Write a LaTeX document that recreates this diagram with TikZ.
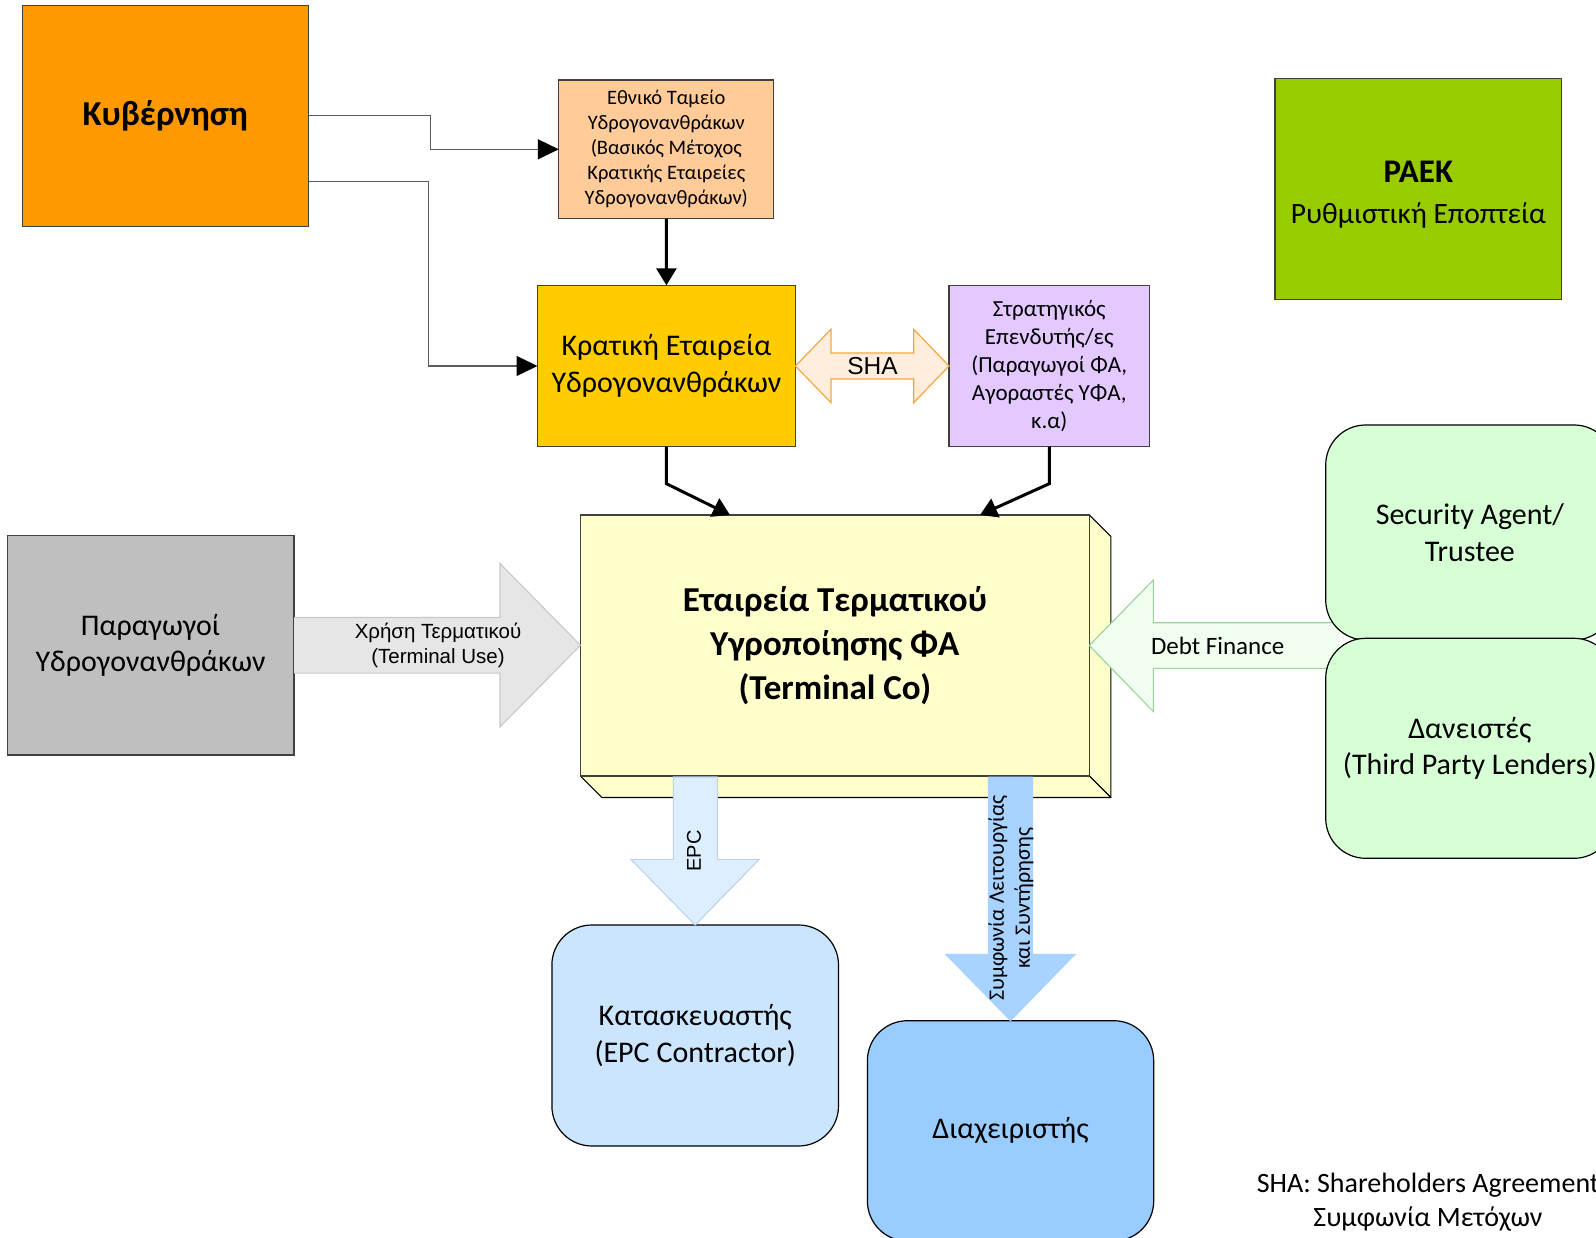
\documentclass[tikz,border=0pt]{standalone}
\usepackage{fontspec}
\setmainfont{Carlito}
\newfontfamily\arialf{Liberation Sans}
\usetikzlibrary{arrows.meta,calc}
\definecolor{boxline}{HTML}{404040}
\definecolor{connline}{HTML}{5A5A5A}
\definecolor{cKyv}{HTML}{FF9900}
\definecolor{cEth}{HTML}{FFCC99}
\definecolor{cKrat}{HTML}{FFCC00}
\definecolor{cStrat}{HTML}{E3C9FF}
\definecolor{cPaek}{HTML}{99CC00}
\definecolor{cTerm}{HTML}{FFFFCC}
\definecolor{cPar}{HTML}{BFBFBF}
\definecolor{cTU}{HTML}{E6E6E6}
\definecolor{cTUline}{HTML}{C8C8C8}
\definecolor{cDebt}{HTML}{F0FFF0}
\definecolor{cDebtline}{HTML}{9AD49A}
\definecolor{cLend}{HTML}{D6FFD6}
\definecolor{cEPC}{HTML}{DDEEFF}
\definecolor{cEPCline}{HTML}{BCD2EC}
\definecolor{cOM}{HTML}{A8D2FF}
\definecolor{cKat}{HTML}{CCE5FF}
\definecolor{cDiax}{HTML}{99CCFF}
\definecolor{cSHA}{HTML}{FFEEDD}
\definecolor{cSHAline}{HTML}{F5A742}
\begin{document}
\begin{tikzpicture}[x=1pt,y=-1pt,
  box/.style={draw=boxline, line width=1.2pt, inner sep=0pt, outer sep=0pt, align=center},
  rbox/.style={box, draw=black, rounded corners=40pt},
  conn/.style={draw=connline, line width=1.3pt, -{Triangle[width=20pt,length=21pt,color=black,fill=black]}},
  tconn/.style={draw=black, line width=3pt, -{Triangle[width=20pt,length=17pt]}},
  fbig/.style={font=\fontsize{30}{36.6}\selectfont},
  lbl/.style={inner sep=0pt, align=center}
]
\useasboundingbox (0,0) rectangle (1596,1238);
\clip (0,0) rectangle (1596,1238);

% top boxes
\node[box, fill=cKyv, minimum width=286.4pt, minimum height=221pt,
      font=\bfseries\fontsize{35}{42}\selectfont] (kyv) at (165.3,115.8) {Κυβέρνηση};
\node[box, fill=cEth, minimum width=215pt, minimum height=138.7pt,
      font=\fontsize{20.5}{25}\selectfont] (eth) at (666.3,149.3)
      {Εθνικό Ταμείο\\Υδρογονανθράκων\\(Βασικός Μέτοχος\\Κρατικής Εταιρείες\\Υδρογονανθράκων)};
\node[box, fill=cKrat, minimum width=257.9pt, minimum height=161.4pt, fbig] (krat) at (666.45,366)
      {Κρατική Εταιρεία\\Υδρογονανθράκων};
\node[box, fill=cStrat, minimum width=200.5pt, minimum height=161.4pt,
      font=\fontsize{23}{28}\selectfont] (strat) at (1049.25,366)
      {Στρατηγικός\\Επενδυτής/ες\\(Παραγωγοί ΦΑ,\\Αγοραστές ΥΦΑ,\\κ.α)};
\node[box, fill=cPaek, minimum width=286.7pt, minimum height=221pt] (paek) at (1418.35,188.8) {};
\node[lbl, font=\fontsize{29.5}{41}\selectfont] (paeklbl) at (1418.35,194.5)
      {{\bfseries\fontsize{33}{41}\selectfont ΡΑΕΚ}\\Ρυθμιστική Εποπτεία};

% connectors
\draw[conn] (kyv.east) -- ++(121.7,0) |- (eth.west);
\draw[conn] ([yshift=-66pt]kyv.east) -- ++(120.1,0) |- (krat.west);
\draw[tconn] (eth.south) -- (krat.north);

% SHA double arrow
\draw[fill=cSHA, draw=cSHAline, line width=1.2pt]
  (krat.east) -- (831,329.3) -- (831,353) -- (913.7,353) -- (913.7,329.3) -- (strat.west)
  -- (913.7,402.7) -- (913.7,379) -- (831,379) -- (831,402.7) -- cycle;
\node[lbl, font=\arialf\fontsize{24.5}{28}\selectfont] (shalbl) at (872.5,366) {SHA};

% terminal 3D box
\draw[fill=cTerm, draw=black, line width=1.1pt, line join=round]
  (1089.3,515) -- (1110.8,536.5) -- (1110.8,797.5) -- (1089.3,776) -- cycle;
\draw[fill=cTerm, draw=black, line width=1.1pt, line join=round]
  (580.4,776) -- (1089.3,776) -- (1110.8,797.5) -- (601.9,797.5) -- cycle;
\node[box, fill=cTerm, draw=boxline, minimum width=508.9pt, minimum height=261pt,
      font=\bfseries\fontsize{35}{44}\selectfont] (term) at (834.85,645.5)
      {Εταιρεία Τερματικού\\Υγροποίησης ΦΑ\\(Terminal Co)};

\draw[tconn] (krat.south) -- ++(0,37) -- ([xshift=149.6pt]term.north west);
\draw[tconn] (strat.south) -- ++(0,37) -- ([xshift=-109.3pt]term.north east);

% producers
\node[box, fill=cPar, minimum width=286.9pt, minimum height=219.6pt, fbig] (par) at (150.55,645.2)
      {Παραγωγοί\\Υδρογονανθράκων};

% terminal use arrow
\draw[fill=cTU, draw=cTUline, line width=1.1pt]
  (par.east |- 0,617.5) -- (500,617.5) -- (500,563.5) -- (580.4,645.3) -- (500,727)
  -- (500,673.1) -- (par.east |- 0,673.1);
\node[lbl, font=\arialf\fontsize{20.5}{25}\selectfont] (tulbl) at (438,645.5)
      {Χρήση Τερματικού\\(Terminal Use)};

% debt finance arrow
\draw[fill=cDebt, draw=cDebtline, line width=1.1pt]
  (1340,622.7) -- (1153.3,622.7) -- (1153.3,580) -- (1089.3,645.5) -- (1153.3,711.5)
  -- (1153.3,668.3) -- (1340,668.3);
\node[lbl, font=\fontsize{25}{30}\selectfont] (debtlbl) at (1217.7,646) {Debt Finance};

% lenders
\node[rbox, fill=cLend, minimum width=288.3pt, minimum height=215pt, fbig] (sec) at (1469.85,532.5)
      {Security Agent/\\Trustee};
\node[rbox, fill=cLend, minimum width=288.3pt, minimum height=220pt, fbig] (lend) at (1469.85,748.3)
      {Δανειστές\\(Third Party Lenders)};

% lower boxes
\node[rbox, fill=cKat, minimum width=286.6pt, minimum height=221pt, fbig] (kat) at (695.2,1035.5)
      {Κατασκευαστής\\(EPC Contractor)};
\node[rbox, fill=cDiax, minimum width=286.3pt, minimum height=220.3pt, fbig] (diax) at (1010.55,1130.85)
      {Διαχειριστής};

% EPC arrow
\draw[fill=cEPC, draw=cEPCline, line width=1.1pt]
  (673.3,777) -- (673.3,859.3) -- (630.7,859.3) -- (kat.north) -- (759.3,859.3)
  -- (717.3,859.3) -- (717.3,777) -- cycle;
\node[lbl, rotate=90, font=\arialf\fontsize{20}{24}\selectfont] (epclbl) at (694,851) {EPC};

% O&M arrow
\draw[fill=cOM, draw=cOM, line width=1pt]
  (988.3,777) -- (988.3,954.3) -- (945.7,954.3) -- (diax.north) -- (1075,954.3)
  -- (1032.7,954.3) -- (1032.7,777) -- cycle;
\node[lbl, rotate=90, font=\fontsize{22}{26}\selectfont] (omlbl) at (1011,898)
      {Συμφωνία Λειτουργίας\\και Συντήρησης};

% footnote
\node[lbl, font=\fontsize{28}{33.6}\selectfont] (note) at (1428,1202)
      {SHA: Shareholders Agreement\\Συμφωνία Μετόχων};
\end{tikzpicture}
\end{document}
